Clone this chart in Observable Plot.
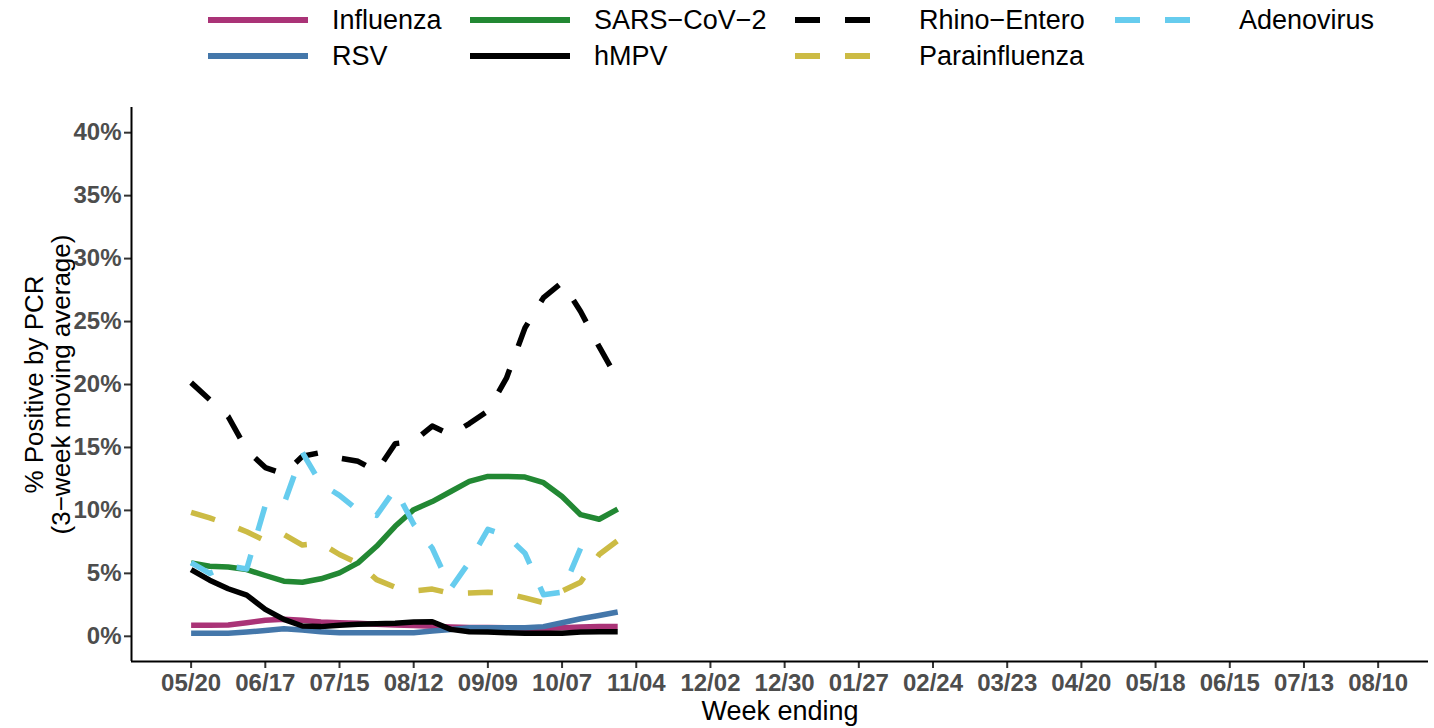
<!DOCTYPE html>
<html>
<head>
<meta charset="utf-8">
<script src="https://cdn.jsdelivr.net/npm/d3@7"></script>
<script src="https://cdn.jsdelivr.net/npm/@observablehq/plot@0.6"></script>
<style>
  html, body { margin: 0; padding: 0; background: #fff; }
  body { width: 1434px; height: 728px; overflow: hidden; font-family: "Liberation Sans", Arial, Helvetica, sans-serif; }
  #legend { display: block; }
  #chart svg { display: block; }
  svg [aria-label="x-axis tick label"], svg [aria-label="y-axis tick label"] { fill: #4D4D4D; font-weight: bold; }
</style>
</head>
<body>
<svg id="legend" width="1434" height="90"></svg>
<div id="chart"></div>
<script>
// ---- Data ----
const weeks = [
  "2023-05-20","2023-05-27","2023-06-03","2023-06-10","2023-06-17","2023-06-24",
  "2023-07-01","2023-07-08","2023-07-15","2023-07-22","2023-07-29","2023-08-05",
  "2023-08-12","2023-08-19","2023-08-26","2023-09-02","2023-09-09","2023-09-16",
  "2023-09-23","2023-09-30","2023-10-07","2023-10-14","2023-10-21","2023-10-28"
];
const influenza     = [0.87,0.87,0.9,1.08,1.27,1.35,1.27,1.13,1.08,1.03,0.95,0.9,0.85,0.8,0.75,0.7,0.7,0.68,0.65,0.63,0.68,0.74,0.77,0.77];
const rsv           = [0.24,0.24,0.24,0.34,0.47,0.6,0.5,0.37,0.29,0.29,0.29,0.29,0.29,0.42,0.55,0.69,0.69,0.69,0.69,0.77,1.08,1.4,1.66,1.93];
const sarsCov2      = [5.83,5.57,5.5,5.3,4.83,4.38,4.3,4.57,5.04,5.83,7.15,8.74,10.06,10.7,11.5,12.3,12.7,12.7,12.65,12.2,11.1,9.66,9.3,10.1];
const hmpv          = [5.3,4.46,3.78,3.27,2.14,1.35,0.82,0.77,0.87,0.95,1.0,1.03,1.13,1.16,0.55,0.37,0.34,0.29,0.24,0.24,0.24,0.34,0.37,0.37];
const rhinoEntero   = [20.15,18.8,17.45,14.8,13.4,12.9,14.3,14.6,14.15,13.9,13.1,15.3,15.5,16.7,16.0,16.9,17.9,20.5,24.5,26.9,28.1,25.8,23.0,20.4];
const parainfluenza = [9.85,9.4,8.9,8.3,7.6,8.1,7.25,7.4,6.5,5.8,4.5,3.9,3.6,3.75,3.4,3.45,3.5,3.4,3.05,2.67,3.6,4.3,6.5,7.6];
const adenovirus    = [5.85,5.0,5.6,5.35,10.4,10.5,14.6,12.1,11.2,10.0,9.6,11.7,8.9,7.0,3.8,5.9,8.5,8.0,6.6,3.3,3.5,7.0];

const tickDates = ["2023-05-20","2023-06-17","2023-07-15","2023-08-12","2023-09-09","2023-10-07",
  "2023-11-04","2023-12-02","2023-12-30","2024-01-27","2024-02-24","2024-03-23","2024-04-20",
  "2024-05-18","2024-06-15","2024-07-13","2024-08-10"];
const yTicks = [0,5,10,15,20,25,30,35,40];

const seriesNames  = ["Influenza","RSV","SARS\u2212CoV\u22122","hMPV","Rhino\u2212Entero","Parainfluenza","Adenovirus"];
const seriesValues = [influenza, rsv, sarsCov2, hmpv, rhinoEntero, parainfluenza, adenovirus];
const seriesColors = ["#AA3377","#4477AA","#228833","#000000","#000000","#CCBB44","#66CCEE"];
const seriesDashed = [false,false,false,false,true,true,true];

// ---- Build tidy table ----
const parse = d3.utcParse("%Y-%m-%d");
const rows = [];
seriesNames.forEach((name, s) => {
  seriesValues[s].forEach((v, i) => rows.push({series: name, s, date: parse(weeks[i]), value: v}));
});

const DAY = 864e5;
const xDomain = [new Date(parse(tickDates[0]).getTime() - 22.5 * DAY),
                 new Date(parse(tickDates[tickDates.length - 1]).getTime() + 19 * DAY)];
const yDomain = [-2, 42];
const DASH = "25,25";
const LW = 5.5;

const lineMarks = seriesNames.map((name, s) =>
  Plot.line(rows.filter(r => r.s === s), {
    x: "date", y: "value",
    stroke: seriesColors[s], strokeWidth: LW,
    strokeDasharray: seriesDashed[s] ? DASH : null,
    strokeLinecap: "butt", strokeLinejoin: "round"
  })
);

const chart = Plot.plot({
  width: 1434,
  height: 638,
  marginTop: 17,
  marginBottom: 67,
  marginLeft: 131,
  marginRight: 6,
  style: {fontFamily: '"Liberation Sans", Arial, Helvetica, sans-serif', background: "#fff", overflow: "visible"},
  x: {type: "utc", domain: xDomain},
  y: {domain: yDomain},
  marks: [
    Plot.axisX({ticks: tickDates.map(parse), tickFormat: d3.utcFormat("%m/%d"), tickSize: 7, tickPadding: 5,
      fontSize: 24, fontWeight: "bold", fill: "#4D4D4D", stroke: "#333333", strokeWidth: 2, label: null}),
    Plot.axisY({ticks: yTicks, tickFormat: d => d + "%", tickSize: 7, tickPadding: 3,
      fontSize: 24, fontWeight: "bold", fill: "#4D4D4D", stroke: "#333333", strokeWidth: 2, label: null}),
    Plot.ruleX([xDomain[0]], {stroke: "#000", strokeWidth: 2}),
    Plot.ruleY([yDomain[0]], {stroke: "#000", strokeWidth: 2}),
    ...lineMarks,
    Plot.text(["Week ending"], {text: d => d, frameAnchor: "bottom", dy: 50, lineAnchor: "middle",
      textAnchor: "middle", fontSize: 27, fill: "#000"}),
    Plot.text(["% Positive by PCR\n(3\u2212week moving average)"], {text: d => d, frameAnchor: "left", dx: -84,
      rotate: -90, textAnchor: "middle", lineAnchor: "middle", lineHeight: 1.04, fontSize: 26, fill: "#000"})
  ]
});
document.getElementById("chart").appendChild(chart);

// ---- Legend (above the plot) ----
const legend = d3.select("#legend");
const keyX = [208, 470, 795, 1115];
const rowY = [20, 56];
seriesNames.forEach((name, s) => {
  const col = Math.floor(s / 2), row = s % 2;
  const g = legend.append("g");
  g.append("line")
    .attr("x1", keyX[col]).attr("x2", keyX[col] + 100)
    .attr("y1", rowY[row]).attr("y2", rowY[row])
    .attr("stroke", seriesColors[s]).attr("stroke-width", 6)
    .attr("stroke-linecap", "butt")
    .attr("stroke-dasharray", seriesDashed[s] ? DASH : null);
  g.append("text")
    .attr("x", keyX[col] + 124).attr("y", rowY[row])
    .attr("dy", "0.35em")
    .attr("font-size", 27)
    .attr("font-family", '"Liberation Sans", Arial, Helvetica, sans-serif')
    .attr("fill", "#000")
    .text(name);
});
</script>
</body>
</html>
